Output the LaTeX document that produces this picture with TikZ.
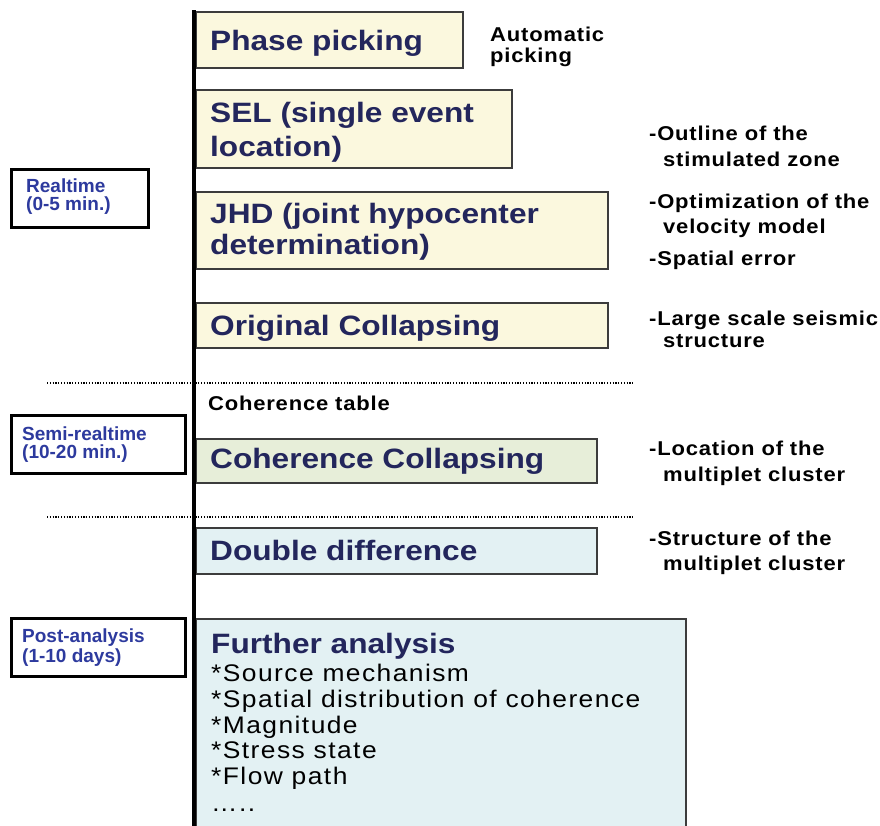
\documentclass[tikz,border=0pt]{standalone}
\usepackage{fontspec}
\setmainfont{Liberation Sans}
\newfontfamily\titlef{Liberation Sans}[FakeStretch=1.13]
\newfontfamily\notef{Liberation Sans}[FakeStretch=1.1,LetterSpace=4]
\newfontfamily\listf{Liberation Sans}[FakeStretch=1.1,LetterSpace=6]
\definecolor{navy}{RGB}{35,38,92}
\definecolor{lblue}{RGB}{45,58,158}
\definecolor{fyellow}{RGB}{251,248,222}
\definecolor{fgreen}{RGB}{231,238,217}
\definecolor{fblue}{RGB}{227,241,243}
\definecolor{edgec}{RGB}{60,60,60}
\tikzset{
  stagebox/.style={draw=edgec, line width=1.5pt, anchor=north west, inner sep=0, outer sep=0},
  phasebox/.style={draw=black, line width=3pt, anchor=north west, inner sep=0, fill=white},
  title/.style={anchor=base west, inner sep=0, text=navy, font=\titlef\bfseries\fontsize{28}{32}\selectfont},
  note/.style={anchor=base west, inner sep=0, font=\notef\bfseries\fontsize{20}{22}\selectfont},
  item/.style={anchor=base west, inner sep=0, font=\listf\fontsize{24}{26}\selectfont},
  phase/.style={anchor=base west, inner sep=0, text=lblue, font=\bfseries\fontsize{19}{18}\selectfont},
  divider/.style={line width=1.6pt, dash pattern=on 1.2pt off 1.6pt},
  axis/.style={line width=4.5pt}
}
\begin{document}
\begin{tikzpicture}[x=1pt,y=-1pt]
\useasboundingbox (0,0) rectangle (880,825);
\clip (0,0) rectangle (880,825);
\fill[white] (0,0) rectangle (880,825);

% stage boxes
\node[stagebox, fill=fyellow, minimum width=267pt, minimum height=56pt] (pp) at (196,12) {};
\node[stagebox, fill=fyellow, minimum width=316pt, minimum height=78pt] (sel) at (196,90) {};
\node[stagebox, fill=fyellow, minimum width=412pt, minimum height=77pt] (jhd) at (196,192) {};
\node[stagebox, fill=fyellow, minimum width=412pt, minimum height=45pt] (oc) at (196,303) {};
\node[stagebox, fill=fgreen, minimum width=401pt, minimum height=44pt] (cc) at (196,439) {};
\node[stagebox, fill=fblue, minimum width=401pt, minimum height=46pt] (dd) at (196,528) {};
\node[stagebox, fill=fblue, minimum width=490pt, minimum height=230pt] (fa) at (196,619) {};

% dividers
\coordinate (d1a) at (47,383); \coordinate (d1b) at (633,383);
\coordinate (d2a) at (47,517); \coordinate (d2b) at (633,517);
\draw[divider] (d1a) -- (d1b);
\draw[divider] (d2a) -- (d2b);

% time axis
\coordinate (axtop) at (194,10); \coordinate (axbot) at (194,830);
\draw[axis] (axtop) -- (axbot);

% titles
\node[title] (tpp) at (210,50) {Phase picking};
\node[title] (tsel1) at (210,122) {SEL (single event};
\node[title] (tsel2) at (210,156) {location)};
\node[title] (tjhd1) at (210,223) {JHD (joint hypocenter};
\node[title] (tjhd2) at (210,254) {determination)};
\node[title] (toc) at (210,335) {Original Collapsing};
\node[title] (tcc) at (210,468) {Coherence Collapsing};
\node[title] (tdd) at (210,560) {Double difference};
\node[title] (tfa) at (211,653) {Further analysis};

% further analysis list
\node[item] (i1) at (211,681) {*Source mechanism};
\node[item] (i2) at (211,707) {*Spatial distribution of coherence};
\node[item] (i3) at (211,733) {*Magnitude};
\node[item] (i4) at (211,758) {*Stress state};
\node[item] (i5) at (211,784) {*Flow path};
\node[item] (i6) at (211,811) {…..};

% notes
\node[note] (n0a) at (490,41) {Automatic};
\node[note] (n0b) at (490,62) {picking};
\node[note] (n1a) at (649,140) {-Outline of the};
\node[note] (n1b) at (663,166) {stimulated zone};
\node[note] (n2a) at (649,208) {-Optimization of the};
\node[note] (n2b) at (663,233) {velocity model};
\node[note] (n3) at (649,265) {-Spatial error};
\node[note] (n4a) at (649,325) {-Large scale seismic};
\node[note] (n4b) at (663,347) {structure};
\node[note] (nct) at (208,410) {Coherence table};
\node[note] (n5a) at (649,455) {-Location of the};
\node[note] (n5b) at (663,481) {multiplet cluster};
\node[note] (n6a) at (649,545) {-Structure of the};
\node[note] (n6b) at (663,570) {multiplet cluster};

% phase boxes
\node[phasebox, minimum width=137pt, minimum height=58pt] (rt) at (10,168) {};
\node[phase] (rt1) at (26,192) {Realtime};
\node[phase] (rt2) at (26,210) {(0-5 min.)};
\node[phasebox, minimum width=174pt, minimum height=58pt] (srt) at (10,414) {};
\node[phase] (srt1) at (22,440) {Semi-realtime};
\node[phase] (srt2) at (22,458) {(10-20 min.)};
\node[phasebox, minimum width=174pt, minimum height=58pt] (pa) at (10,617) {};
\node[phase] (pa1) at (22,642) {Post-analysis};
\node[phase] (pa2) at (22,662) {(1-10 days)};
\end{tikzpicture}
\end{document}
